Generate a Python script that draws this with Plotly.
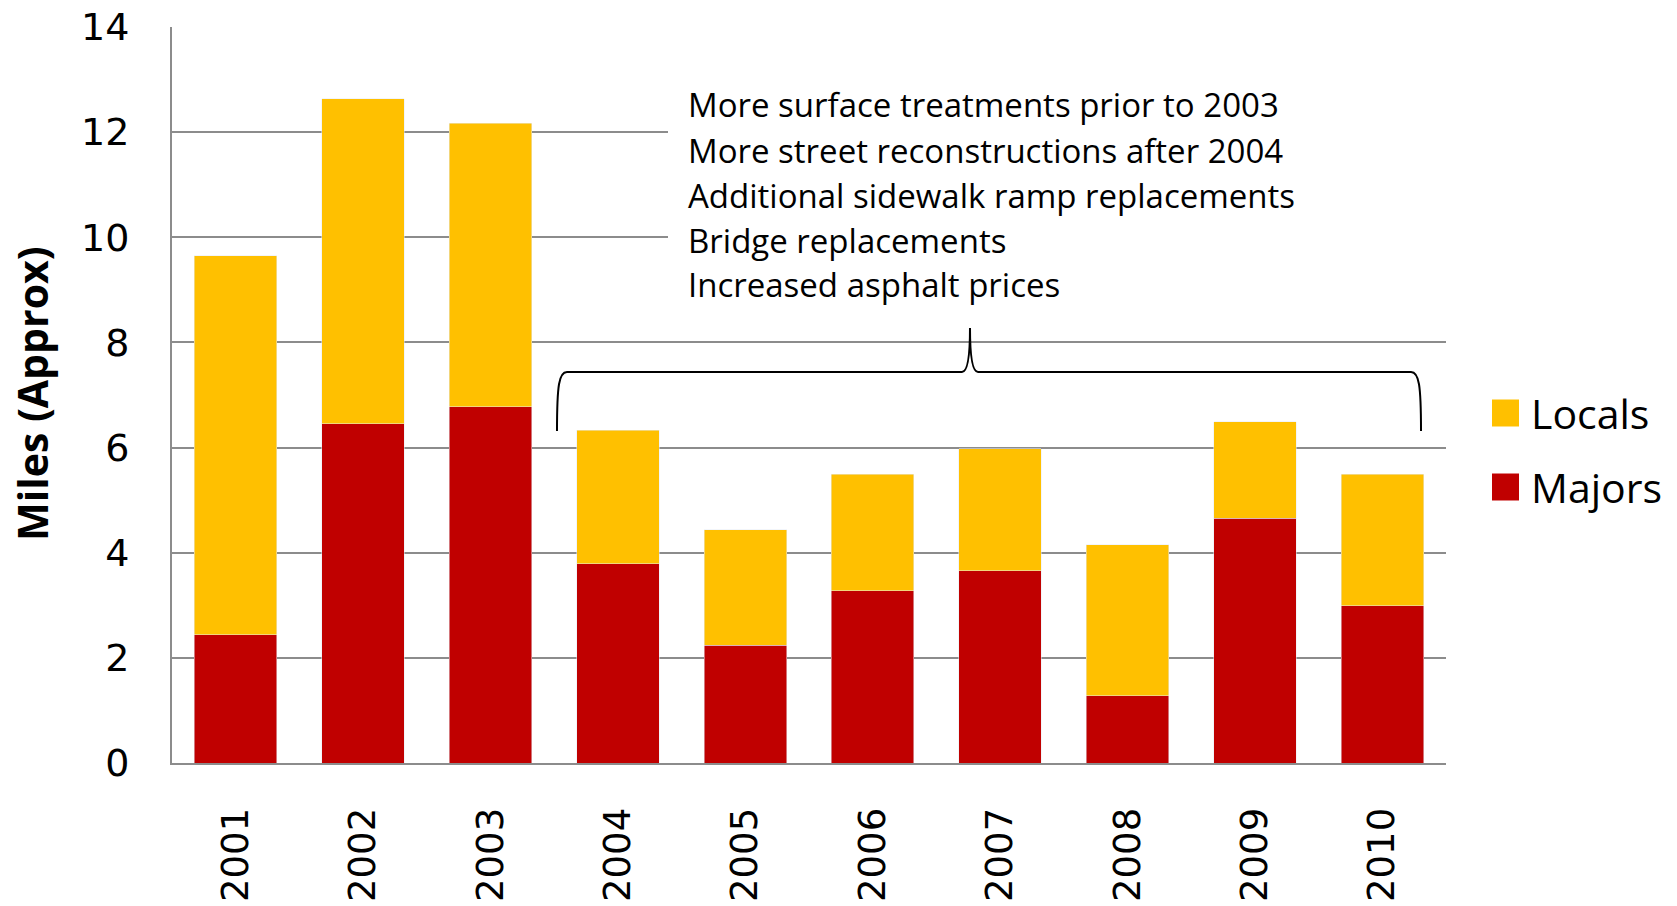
import plotly.graph_objects as go

years = ["2001", "2002", "2003", "2004", "2005", "2006", "2007", "2008", "2009", "2010"]
majors = [2.44, 6.45, 6.78, 3.79, 2.24, 3.28, 3.66, 1.28, 4.66, 2.99]
locals_ = [7.21, 6.19, 5.39, 2.54, 2.20, 2.21, 2.32, 2.87, 1.83, 2.50]
notes = [
    "More surface treatments prior to 2003",
    "More street reconstructions after 2004",
    "Additional sidewalk ramp replacements",
    "Bridge replacements",
    "Increased asphalt prices",
]
legend_names = ["Locals", "Majors"]

W, H = 1677, 906
L, R, T, B = 172, 1446, 27, 763
def px(x):
    return (x - L) / (R - L)
def py(y):
    return (B - y) / (B - T)

YELLOW = "#FFC000"
RED = "#C00000"
GRID = "#8c8c8c"

fig = go.Figure()
fig.add_trace(go.Bar(x=years, y=majors, name="Majors", marker_color=RED, showlegend=False))
fig.add_trace(go.Bar(x=years, y=locals_, name="Locals", marker_color=YELLOW, showlegend=False))

fig.update_layout(
    width=W, height=H,
    margin=dict(l=L, r=W - R, t=T, b=H - B, autoexpand=False),
    barmode="stack", bargap=0.353,
    plot_bgcolor="white", paper_bgcolor="white",
    xaxis=dict(type="category", tickangle=-90, showgrid=False, showline=True,
               linecolor=GRID, linewidth=2, ticks="", automargin=False,
               tickfont=dict(family="DejaVu Sans", size=37, color="black"),
               ticklabelstandoff=28),
    yaxis=dict(range=[0, 14], dtick=2, showgrid=True, gridcolor=GRID, gridwidth=1.5,
               showline=True, linecolor=GRID, linewidth=2, ticks="", zeroline=False,
               automargin=False,
               tickfont=dict(family="DejaVu Sans", size=38, color="black"),
               ticklabelstandoff=33),
    showlegend=False,
)

# white box masking gridlines behind the notes
fig.add_shape(type="rect", xref="paper", yref="paper",
              x0=px(668), x1=1.0, y0=py(305), y1=py(62),
              fillcolor="white", line_width=0, layer="above")

for i, t in enumerate(notes):
    fig.add_annotation(text=t, xref="paper", yref="paper",
                       x=px(686), y=py(105 + 45 * i), xanchor="left", yanchor="middle",
                       showarrow=False,
                       font=dict(family="Open Sans", size=33, color="black"))

# brace
lx, rx, tx = 557, 1421, 970
yb, yh, yt = 431, 372, 328
def P(x, y):
    return f"{px(x):.5f},{py(y):.5f}"
path = (f"M {P(lx, yb)} C {P(lx, 385)} {P(lx+2, yh)} {P(lx+10, yh)} "
        f"L {P(tx-8, yh)} C {P(tx-2, yh)} {P(tx, 352)} {P(tx, yt)} "
        f"C {P(tx, 352)} {P(tx+2, yh)} {P(tx+8, yh)} "
        f"L {P(rx-10, yh)} C {P(rx-2, yh)} {P(rx, 385)} {P(rx, yb)}")
fig.add_shape(type="path", xref="paper", yref="paper", path=path,
              line=dict(color="black", width=2), layer="above")

# y-axis title
fig.add_annotation(text="<b>Miles (Approx)</b>", xref="paper", yref="paper",
                   x=px(32), y=py(394), textangle=-90, showarrow=False,
                   xanchor="center", yanchor="middle",
                   font=dict(family="Open Sans", size=41, color="black"))

# legend (manual)
for name, col, yc in zip(legend_names, [YELLOW, RED], [413, 487]):
    fig.add_shape(type="rect", xref="paper", yref="paper",
                  x0=px(1492), x1=px(1519), y0=py(yc + 13.5), y1=py(yc - 13.5),
                  fillcolor=col, line_width=0)
    fig.add_annotation(text=name, xref="paper", yref="paper",
                       x=px(1529), y=py(yc), xanchor="left", yanchor="middle",
                       showarrow=False,
                       font=dict(family="Open Sans", size=41, color="black"))

fig.write_html("out.html", config={"displayModeBar": False},
               post_script="document.body.style.margin='0px';")
